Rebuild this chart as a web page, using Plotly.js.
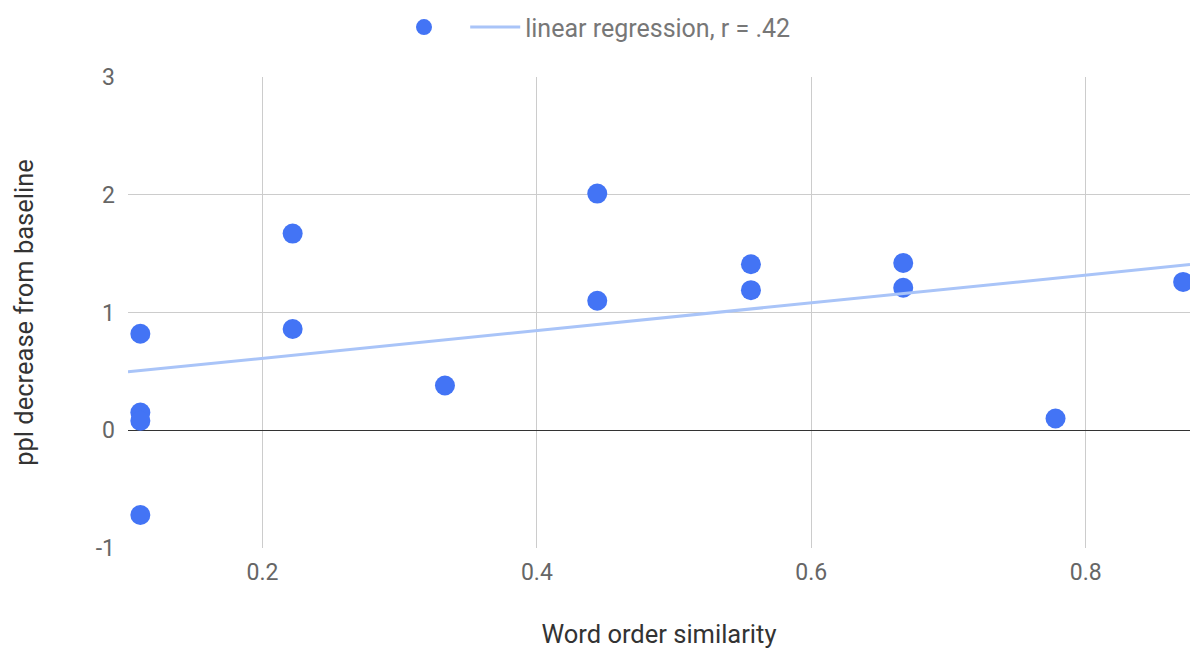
<!DOCTYPE html>
<html>
<head>
<meta charset="utf-8">
<script src="https://cdn.plot.ly/plotly-3.0.1.min.js"></script>
<style>html,body{margin:0;padding:0;background:#fff;}#chart{width:1190px;height:650px;}</style>
</head>
<body>
<div id="chart"></div>
<script>
// Word order similarity (x) vs ppl decrease from baseline (y)
const similarity = [0.111, 0.111, 0.111, 0.111, 0.222, 0.222, 0.333, 0.444, 0.444, 0.556, 0.556, 0.667, 0.667, 0.778, 0.871];
const pplDecrease = [0.82, 0.15, 0.08, -0.72, 1.67, 0.86, 0.38, 2.01, 1.10, 1.41, 1.19, 1.42, 1.21, 0.10, 1.26];
const xRange = [0.102, 0.876];
const yTicks = [-1, 0, 1, 2, 3];
const yTickLabels = ['-1', '0', '1', '2', '3'];
const xTicks = [0.2, 0.4, 0.6, 0.8];
const xTickLabels = ['0.2', '0.4', '0.6', '0.8'];

// least-squares fit from the data
const n = similarity.length;
const mx = similarity.reduce((a, b) => a + b, 0) / n;
const my = pplDecrease.reduce((a, b) => a + b, 0) / n;
let sxy = 0, sxx = 0;
for (let i = 0; i < n; i++) { sxy += (similarity[i] - mx) * (pplDecrease[i] - my); sxx += (similarity[i] - mx) ** 2; }
const slope = sxy / sxx, intercept = my - slope * mx;
const trendX = xRange;
const trendY = trendX.map(x => intercept + slope * x);

const data = [
  {x: similarity, y: pplDecrease, type: 'scatter', mode: 'markers', name: ' ',
   marker: {color: '#4374f5', size: 20}},
  {x: trendX, y: trendY, type: 'scatter', mode: 'lines', name: 'linear regression, r = .42',
   line: {color: '#a9c4f8', width: 3}}
];
const layout = {
  width: 1190, height: 650,
  margin: {l: 128, r: 0, t: 77, b: 102},
  paper_bgcolor: '#fff', plot_bgcolor: '#fff',
  font: {family: 'Roboto, Arial, sans-serif', size: 23, color: '#666'},
  showlegend: true,
  legend: {orientation: 'h', x: 0.5, xanchor: 'center', xref: 'container', y: 0.958, yanchor: 'middle', yref: 'container',
           font: {size: 25, color: '#777'}, itemwidth: 50},
  xaxis: {range: xRange, tickvals: xTicks, ticktext: xTickLabels, showgrid: true, gridcolor: '#cccccc',
          zeroline: false, showline: false, ticks: '', ticklabelstandoff: 8, tickfont: {size: 23, color: '#666'},
          title: {text: 'Word order similarity', font: {size: 25.5, color: '#333'}, standoff: 40}},
  yaxis: {range: [-1, 3], tickvals: yTicks, ticktext: yTickLabels, showgrid: true, gridcolor: '#cccccc',
          zeroline: true, zerolinecolor: '#333', zerolinewidth: 1.5, ticks: '', ticklabelstandoff: 12,
          tickfont: {size: 23, color: '#666'},
          title: {text: 'ppl decrease from baseline', font: {size: 25.5, color: '#333'}, standoff: 54}}
};
Plotly.newPlot('chart', data, layout, {displayModeBar: false, staticPlot: true});
</script>
</body>
</html>
